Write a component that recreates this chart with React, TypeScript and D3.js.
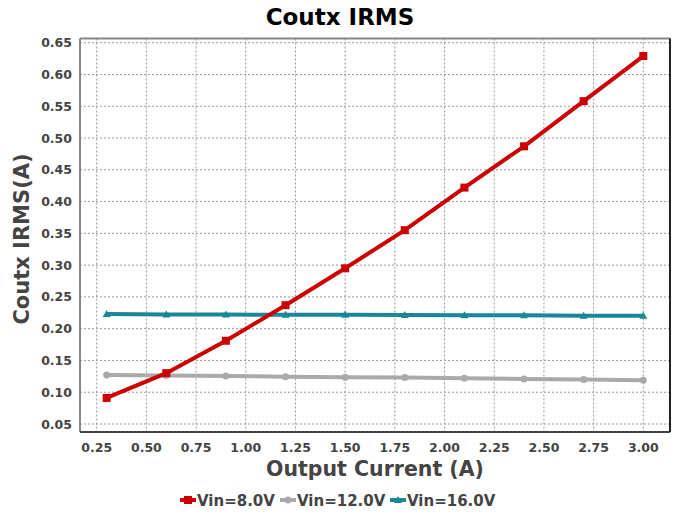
import React from "react";
import * as d3 from "d3";

const xValues = [0.3, 0.6, 0.9, 1.2, 1.5, 1.8, 2.1, 2.4, 2.7, 3.0];
const vin8 = [0.091, 0.130, 0.181, 0.237, 0.295, 0.355, 0.422, 0.487, 0.558, 0.629];
const vin12 = [0.127, 0.1265, 0.1255, 0.1245, 0.1235, 0.123, 0.122, 0.121, 0.120, 0.119];
const vin16 = [0.223, 0.2225, 0.2222, 0.222, 0.2218, 0.2215, 0.2212, 0.221, 0.2205, 0.2205];
const seriesNames = ["Vin=8.0V", "Vin=12.0V", "Vin=16.0V"];
const xTicks = [0.25, 0.5, 0.75, 1.0, 1.25, 1.5, 1.75, 2.0, 2.25, 2.5, 2.75, 3.0];
const yTicks = [0.05, 0.1, 0.15, 0.2, 0.25, 0.3, 0.35, 0.4, 0.45, 0.5, 0.55, 0.6, 0.65];

const colors = ["#cc0000", "#aaaaaa", "#1a8696"];
const FONT = "'DejaVu Sans', sans-serif";

export default function App() {
  const W = 678, H = 515;
  const L = 80, R = 670, T = 38.5, B = 432;
  const x = d3.scaleLinear().domain([0.25, 3.0]).range([96.7, 643.3]);
  const y = d3.scaleLinear().domain([0.05, 0.65]).range([424, 42.7]);
  const data = [vin8, vin12, vin16];
  const line = d3.line<number>().x((_, i) => x(xValues[i])).y((d) => y(d));

  const marker = (k: number, cx: number, cy: number, key: string) => {
    const c = colors[k];
    if (k === 0) return <rect key={key} x={cx - 4} y={cy - 4} width={8} height={8} fill={c} />;
    if (k === 1) return <circle key={key} cx={cx} cy={cy} r={3.5} fill={c} />;
    return <path key={key} d={`M${cx},${cy - 4}L${cx + 4},${cy + 3}L${cx - 4},${cy + 3}Z`} fill={c} />;
  };

  const legendX = [180, 280, 390];

  return (
    <svg width={W} height={H} style={{ position: "absolute", left: 0, top: 0 }} fontFamily={FONT}>
      <rect x={0} y={0} width={W} height={H} fill="#fff" />
      <text x={340} y={25} textAnchor="middle" fontSize={23} fontWeight="bold" fill="#000">Coutx IRMS</text>
      {xTicks.map((t) => (
        <line key={"gx" + t} x1={x(t)} x2={x(t)} y1={T} y2={B} stroke="#999" strokeWidth={1} strokeDasharray="2,2" />
      ))}
      {yTicks.map((t) => (
        <line key={"gy" + t} x1={L} x2={R} y1={y(t)} y2={y(t)} stroke="#999" strokeWidth={1} strokeDasharray="2,2" />
      ))}
      <line x1={L} x2={R} y1={T} y2={T} stroke="#888" strokeWidth={2} />
      <line x1={L} x2={L} y1={T} y2={B} stroke="#888" strokeWidth={2} />
      <line x1={L} x2={R} y1={B} y2={B} stroke="#444" strokeWidth={2} />
      <line x1={R} x2={R} y1={T} y2={B} stroke="#222" strokeWidth={2} />
      {yTicks.map((t) => (
        <text key={"ty" + t} x={72} y={y(t) + 4.5} textAnchor="end" fontSize={12.5} fontWeight="bold" fill="#444">{t.toFixed(2)}</text>
      ))}
      {xTicks.map((t) => (
        <text key={"tx" + t} x={x(t)} y={452} textAnchor="middle" fontSize={12.5} fontWeight="bold" fill="#444">{t.toFixed(2)}</text>
      ))}
      <text x={375} y={476} textAnchor="middle" fontSize={20.5} fontWeight="bold" fill="#444">Output Current (A)</text>
      <text transform={`translate(29,239) rotate(-90)`} textAnchor="middle" fontSize={21} fontWeight="bold" fill="#444">Coutx IRMS(A)</text>
      {[1, 2, 0].map((k) => (
        <g key={"s" + k}>
          <path d={line(data[k]) || ""} fill="none" stroke={colors[k]} strokeWidth={4} />
          {data[k].map((v, i) => marker(k, x(xValues[i]), y(v), `m${k}-${i}`))}
        </g>
      ))}
      {seriesNames.map((n, k) => (
        <g key={"lg" + k}>
          <line x1={legendX[k]} x2={legendX[k] + 16} y1={500} y2={500} stroke={colors[k]} strokeWidth={4} />
          {marker(k, legendX[k] + 8, 500, "lm" + k)}
          <text x={legendX[k] + 17} y={505.5} fontSize={15} fontWeight="bold" fill="#444">{n}</text>
        </g>
      ))}
    </svg>
  );
}
